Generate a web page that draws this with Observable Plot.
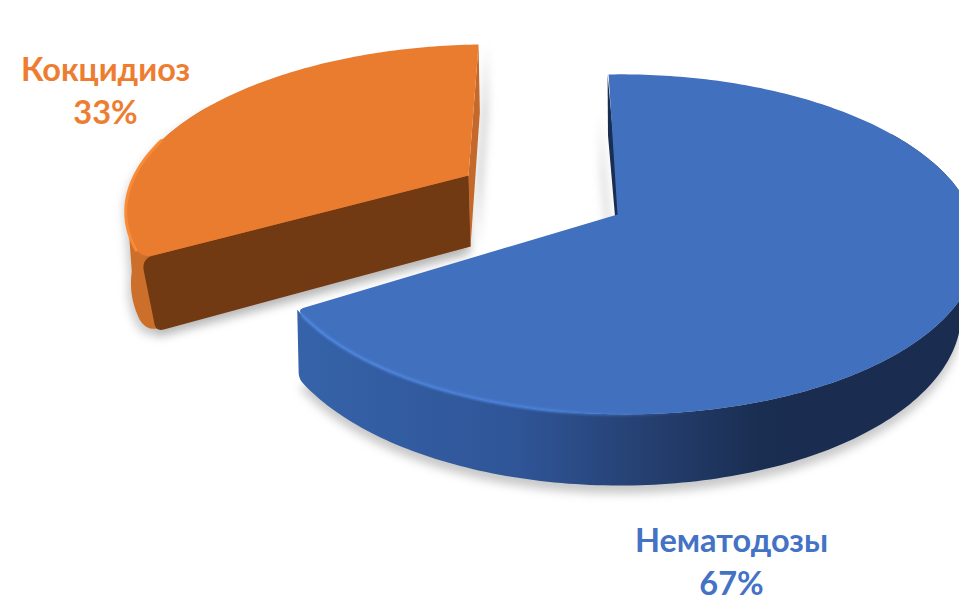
<!DOCTYPE html>
<html><head><meta charset="utf-8">
<style>html,body{margin:0;padding:0;background:#fff}svg{display:block}</style>
<script src="https://cdn.jsdelivr.net/npm/d3@7"></script>
<script src="https://cdn.jsdelivr.net/npm/@observablehq/plot@0.6"></script>
</head><body><div id="c"></div>
<script>
const categories = ["Нематодозы", "Кокцидиоз"];
const shares = [67, 33];
const textColors = ["#4472C4", "#ED7D31"];

// Perspective of a tilted disc: each wedge's angle comes from its share.
const view = {
  blueTop:   {ax:617, ay:214, A:349, B:164.7, D:10.5,  E:-4, k:.176, m:.0115, w:.992},
  blueBot:   {ax:617, ay:279, A:340, B:169.5, D:10,    E:-3, k:.177, m:-.01,  w:.992},
  orangeTop: {ax:468, ay:175, A:339, B:154,   D:-11.8, E:-3, k:.176, m:.0115, w:1},
  orangeBot: {ax:470, ay:246, A:336, B:158,   D:-11,   E:-3, k:.176, m:.0115, w:1},
  orangeCut: {ax:470, ay:246, A:326, B:158,   D:-11,   E:-3, k:.176, m:.0115, w:1}
};
const proj = (p, deg) => {
  const t = deg * p.w * Math.PI / 180, u = Math.sin(t), v = -Math.cos(t), d = 1 - p.k * v - p.m * u;
  return {x: p.ax + (p.A * u + p.D * v) / d, y: p.ay + (p.B * v + p.E * u) / d};
};
const blueEnd = shares[0] / 100 * 360;
const arc = (p, a, b) => d3.range(a, b, 1).concat([b]).map(d => proj(p, d));
const apex = p => ({x: p.ax, y: p.ay});
const shift = (pts, dx, dy) => pts.map(d => ({x: d.x + dx, y: d.y + dy}));

// Soften the corner at index i of a polyline with a quadratic curve of reach r.
const roundAt = (pts, i, r) => {
  const walk = step => {
    let j = i, left = r;
    while (pts[j + step]) {
      const a = pts[j], b = pts[j + step], l = Math.hypot(b.x - a.x, b.y - a.y);
      if (l >= left) return {j, p: {x: a.x + (b.x - a.x) * left / l, y: a.y + (b.y - a.y) * left / l}};
      left -= l; j += step;
    }
    return {j, p: pts[j]};
  };
  const A = walk(-1), B = walk(1), c = pts[i];
  const curve = d3.range(0, 1.001, .1).map(t => ({
    x: (1-t)*(1-t)*A.p.x + 2*t*(1-t)*c.x + t*t*B.p.x,
    y: (1-t)*(1-t)*A.p.y + 2*t*(1-t)*c.y + t*t*B.p.y
  }));
  return [...pts.slice(0, A.j + 1), ...curve, ...pts.slice(B.j + 1)];
};

const blueArc = arc(view.blueTop, 0, blueEnd);
const blueTop = roundAt([apex(view.blueTop), ...blueArc, apex(view.blueTop)], blueArc.length, 7);
const bSideTop = arc(view.blueTop, 60, blueEnd), bSideBot = arc(view.blueBot, 60, blueEnd).reverse();
const blueSide = roundAt([...bSideTop, ...bSideBot], bSideTop.length, 6);
const blueBack = [...shift([proj(view.blueTop, 0)], -1, 0), ...shift([apex(view.blueTop), apex(view.blueBot)], 3, 0), ...shift([proj(view.blueBot, 0)], -1, 0)];

const oArc = arc(view.orangeTop, blueEnd, 360);
const orangeTop = roundAt([apex(view.orangeTop), ...oArc, apex(view.orangeTop)], 1, 13);
const oUpper = arc(view.orangeTop, 262, 300).reverse();
const oLower = arc(view.orangeBot, blueEnd, 262).reverse();
const orangeSide = roundAt([...oUpper, ...oLower, apex(view.orangeBot), apex(view.orangeTop)], oUpper.length + oLower.length - 1, 14);
const orangeCut = roundAt(roundAt([apex(view.orangeTop), proj(view.orangeTop, blueEnd), proj(view.orangeCut, blueEnd), apex(view.orangeCut)], 2, 8), 1, 13);
const orangeBack = [proj(view.orangeTop, 360), apex(view.orangeTop), apex(view.orangeCut), proj(view.orangeCut, 360)];
const blueRim = arc(view.blueTop, 165, blueEnd - 2);
const orangeRim = arc(view.orangeTop, blueEnd + 3, 285);

const labels = categories.map((c, i) => ({text: c + "\n" + shares[i] + "%", color: textColors[i]}));
const labelX = [731, 105], labelY = [559.5, 88];

const grad = (id, stops) => `<linearGradient id="${id}" gradientUnits="userSpaceOnUse" x1="290" x2="800" y1="0" y2="0">` +
  stops.map(([o, c]) => `<stop offset="${o}" stop-color="${c}"/>`).join("") + `</linearGradient>`;
const defs = () => {
  const g = d3.create("svg:g");
  g.html(`<defs>` +
    grad("gBlue", [[0, "#3663AA"], [.45, "#2F5597"], [.7, "#253F70"], [.92, "#1A2E52"], [1, "#1A2D50"]]) +
    grad("gRim", [[0, "#4F86DE"], [.5, "#4A80D6"], [.8, "rgba(68,114,196,0)"], [1, "rgba(68,114,196,0)"]]) +
    `</defs>`);
  return g.node();
};
const poly = (pts, o) => Plot.line(pts, {x: "x", y: "y", curve: "linear-closed", stroke: "none", ...o});

const chart = Plot.plot({
  width: 959, height: 602, margin: 0,
  x: {domain: [0, 959], range: [0, 959], axis: null},
  y: {domain: [0, 602], range: [0, 602], axis: null},
  marks: [
    defs,
    poly(shift(arc(view.blueBot, 90, blueEnd), 0, 8), {fill: "#9a9a9a", fillOpacity: .55, imageFilter: "blur(5px)"}),
    poly(shift(orangeSide, -3, 6), {fill: "#9a9a9a", fillOpacity: .5, imageFilter: "blur(5px)"}),
    poly(shift(orangeCut, 0, 7), {fill: "#9a9a9a", fillOpacity: .45, imageFilter: "blur(5px)"}),
    poly(shift(orangeBack, 8, 0), {fill: "#9a9a9a", fillOpacity: .45, imageFilter: "blur(4px)"}),
    poly(shift(blueBack, -7, 40), {fill: "#9a9a9a", fillOpacity: .4, imageFilter: "blur(4px)"}),
    poly(orangeSide, {fill: "#CC6F2B"}),
    poly(orangeBack, {fill: "#C5682B"}),
    poly(orangeCut, {fill: "#723A13"}),
    poly(orangeTop, {fill: "#EA7C30"}),
    Plot.line(orangeRim, {x: "x", y: "y", stroke: "#F98A36", strokeWidth: 3, imageFilter: "blur(.7px)"}),
    poly(blueSide, {fill: "url(#gBlue)"}),
    poly(blueBack, {fill: "#1A2E52"}),
    poly(blueTop, {fill: "#4170BF", imageFilter: "blur(.7px)"}),
    Plot.line(blueRim, {x: "x", y: "y", stroke: "url(#gRim)", strokeWidth: 3, imageFilter: "blur(1px)"}),
    Plot.text(labels, {
      x: (d, i) => labelX[i], y: (d, i) => labelY[i], text: "text", fill: "color",
      fontFamily: "Lato", fontWeight: 700, fontSize: 32.5, lineHeight: 1.32, textAnchor: "middle"
    })
  ]
});
document.getElementById("c").append(chart);
</script></body></html>
